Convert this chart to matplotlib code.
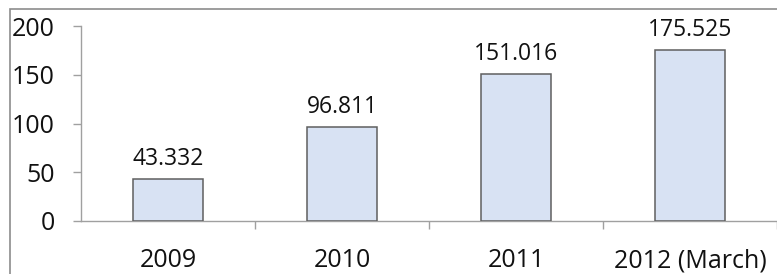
import numpy as np
import matplotlib.pyplot as plt
from matplotlib.patches import Rectangle

years = ['2009', '2010', '2011', '2012 (March)']
values = [43.332, 96.811, 151.016, 175.525]
value_labels = ['43.332', '96.811', '151.016', '175.525']
yticks = [0, 50, 100, 150, 200]

plt.rcParams['font.family'] = ['Open Sans', 'DejaVu Sans']

W, H = 777, 274
fig = plt.figure(figsize=(W / 100, H / 100), dpi=100)

# plot area in pixels: y axis at x=81, zero line at y=221, 200 at y=26
cat_w = 175.7
ax = fig.add_axes([81 / W, (H - 221) / H, (W - 81) / W, 195 / H])

x = np.arange(len(years))
ax.bar(x, values, width=0.4, color='#d8e2f3', edgecolor='#5f5f5f', linewidth=1.1, zorder=3)

for xi, v, lab in zip(x, values, value_labels):
    ax.annotate(lab, (xi, v), xytext=(0, 5.5), textcoords='offset points',
                ha='center', va='bottom', fontsize=16.5, color='#111111')

ax.set_xlim(-0.5, -0.5 + (W - 81) / cat_w)
ax.set_ylim(0, 200)
ax.set_yticks(yticks)
ax.set_yticklabels([str(t) for t in yticks])

ax.set_xticks(x)
ax.set_xticklabels(years)
ax.set_xticks(np.arange(len(years)) + 0.5, minor=True)

for s in ['top', 'right']:
    ax.spines[s].set_visible(False)
for s in ['left', 'bottom']:
    ax.spines[s].set_color('#a0a0a0')
    ax.spines[s].set_linewidth(1.0)

ax.tick_params(axis='x', which='major', length=0, pad=19.5, labelsize=18, colors='#111111')
ax.tick_params(axis='x', which='minor', length=6, width=1.0, color='#a0a0a0')
ax.tick_params(axis='y', length=6, width=1.0, color='#a0a0a0', pad=13, labelsize=18, labelcolor='#111111')

# outer chart frame (only top and left edges visible)
frame = Rectangle((10 / W, -0.2), 1.2, 1 - 9 / H + 0.2, transform=fig.transFigure,
                  fill=False, edgecolor='#8c8c8c', linewidth=1.2, clip_on=False)
fig.patches.append(frame)

fig.savefig('out.png', dpi=100)
